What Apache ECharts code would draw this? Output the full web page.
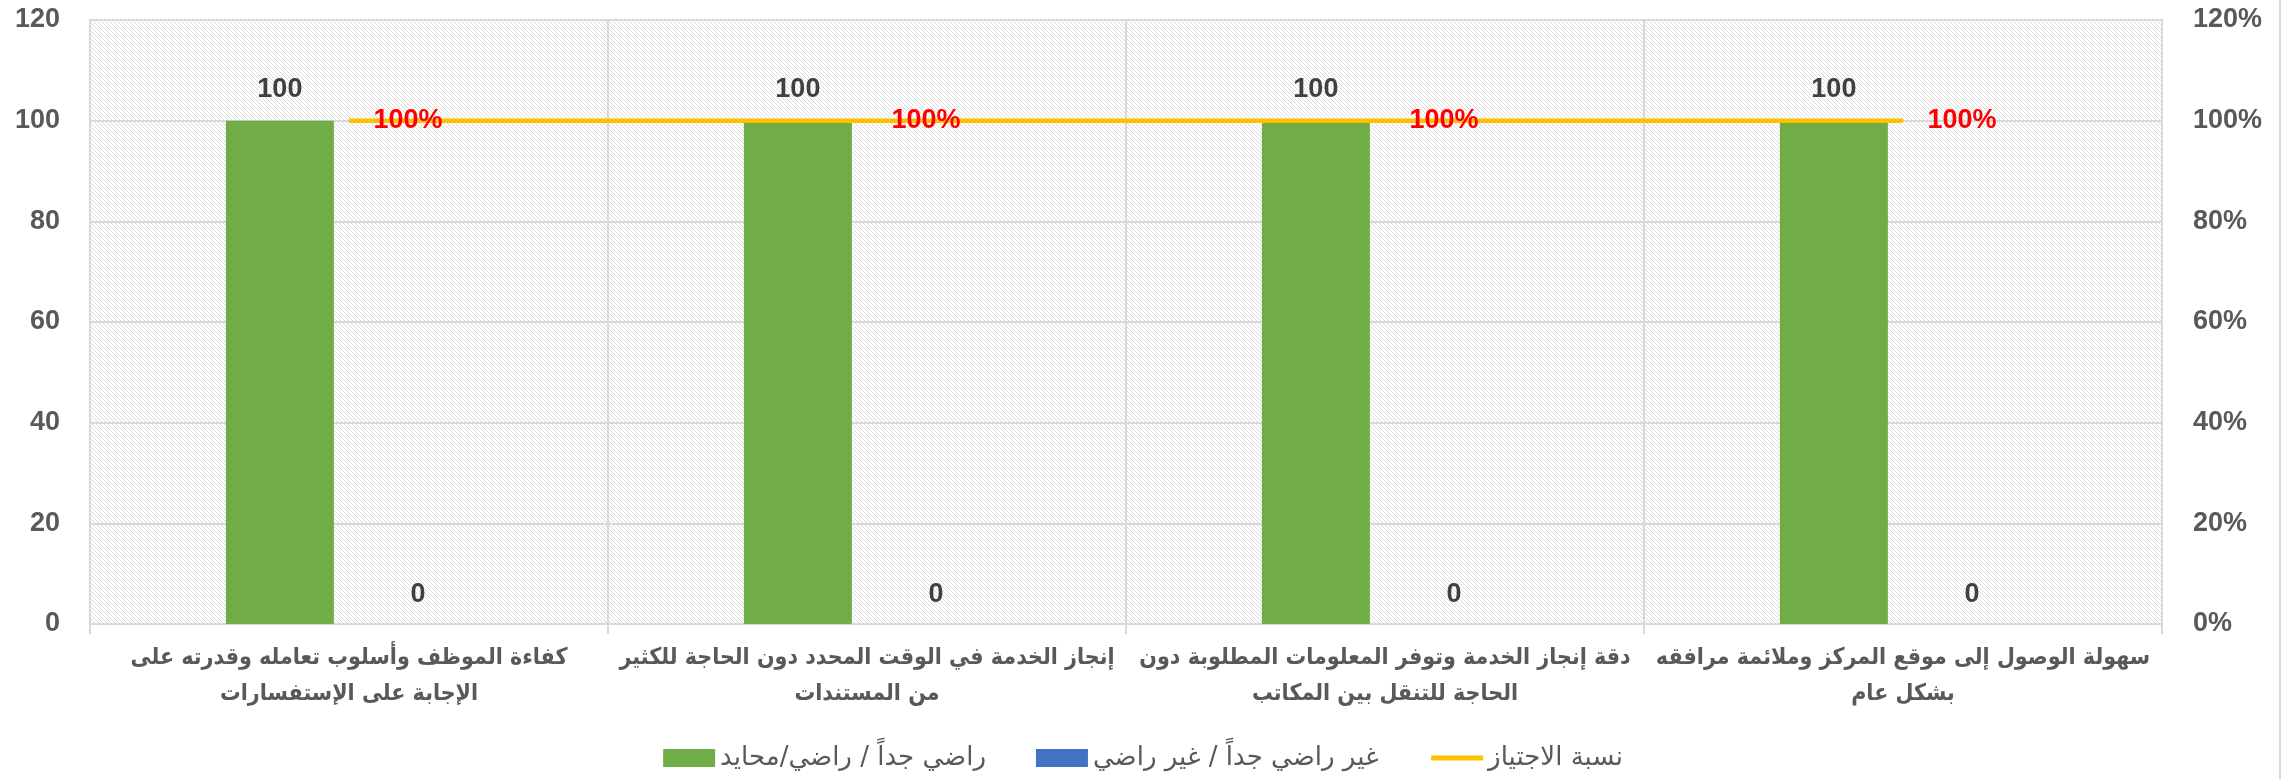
<!DOCTYPE html>
<html>
<head>
<meta charset="utf-8">
<script src="https://cdn.jsdelivr.net/npm/echarts@6/dist/echarts.min.js"></script>
<style>
html,body{margin:0;padding:0;background:#fff;}
#c{width:2286px;height:779px;}
</style>
</head>
<body>
<div id="c"></div>
<script>
const categories = [
  "كفاءة الموظف وأسلوب تعامله وقدرته على\nالإجابة على الإستفسارات",
  "إنجاز الخدمة في الوقت المحدد دون الحاجة للكثير\nمن المستندات",
  "دقة إنجاز الخدمة وتوفر المعلومات المطلوبة دون\nالحاجة للتنقل بين المكاتب",
  "سهولة الوصول إلى موقع المركز وملائمة مرافقه\nبشكل عام"
];
const seriesNames = ["راضي جداً / راضي/محايد", "غير راضي جداً / غير راضي", "نسبة الاجتياز"];
const satisfied = [100, 100, 100, 100];
const notSatisfied = [0, 0, 0, 0];
const passRate = [100, 100, 100, 100];
const leftTicks = { min: 0, max: 120, interval: 20 };
const rightTicks = { min: 0, max: 120, interval: 20 };

// hatch pattern
const tile = document.createElement('canvas');
tile.width = 4; tile.height = 4;
const tc = tile.getContext('2d');
tc.fillStyle = '#ffffff'; tc.fillRect(0,0,4,4);
tc.fillStyle = '#dcdcdc';
for (let i = 0; i < 4; i++) { tc.fillRect(i, i, 1, 1); }

const numFont = 'Liberation Sans, Arial, sans-serif';
const arFont = 'DejaVu Sans Condensed, DejaVu Sans, sans-serif';
const legFont = 'DejaVu Sans, sans-serif';

const chart = echarts.init(document.getElementById('c'), null, {renderer: 'canvas'});
chart.setOption({
  animation: false,
  backgroundColor: '#ffffff',
  grid: {
    left: 90, right: 124, top: 20, bottom: 155,
    show: true,
    backgroundColor: {image: tile, repeat: 'repeat'},
    borderColor: '#d9d9d9', borderWidth: 2
  },
  graphic: [{
    type: 'line', shape: {x1: 2280, y1: 0, x2: 2280, y2: 779},
    style: {stroke: '#d9d9d9', lineWidth: 2}
  }],
  legend: {
    bottom: 3, left: 'center',
    itemWidth: 52, itemHeight: 18, itemGap: 50,
    textStyle: {fontSize: 26, color: '#595959', fontFamily: legFont, fontWeight: 'normal'},
    data: [
      {name: seriesNames[0], icon: 'rect'},
      {name: seriesNames[1], icon: 'rect'},
      {name: seriesNames[2], itemStyle: {opacity: 0}, lineStyle: {width: 5}}
    ]
  },
  xAxis: {
    type: 'category', data: categories, boundaryGap: true,
    axisLine: {show: true, lineStyle: {color: '#d9d9d9', width: 2}},
    axisTick: {show: true, length: 10, lineStyle: {color: '#d9d9d9', width: 2}},
    splitLine: {show: true, lineStyle: {color: '#d9d9d9', width: 2}},
    axisLabel: {
      interval: 0, margin: 16, fontSize: 23, lineHeight: 36,
      fontWeight: 'bold', color: '#595959', fontFamily: arFont, align: 'center'
    }
  },
  yAxis: [{
    type: 'value', min: leftTicks.min, max: leftTicks.max, interval: leftTicks.interval,
    axisLine: {show: false}, axisTick: {show: false},
    splitLine: {show: true, lineStyle: {color: '#d9d9d9', width: 2}},
    axisLabel: {fontSize: 27, fontWeight: 'bold', color: '#595959', fontFamily: numFont, margin: 30}
  }, {
    type: 'value', min: rightTicks.min, max: rightTicks.max, interval: rightTicks.interval,
    position: 'right',
    axisLine: {show: false}, axisTick: {show: false}, splitLine: {show: false},
    axisLabel: {fontSize: 27, fontWeight: 'bold', color: '#595959', fontFamily: numFont, margin: 31, formatter: '{value}%'}
  }],
  series: [{
    name: seriesNames[0], type: 'bar', data: satisfied,
    barWidth: 108, barGap: '28%',
    itemStyle: {color: '#70AD47'},
    label: {show: true, position: 'top', distance: 18, fontSize: 27, fontWeight: 'bold', color: '#404040', fontFamily: numFont}
  }, {
    name: seriesNames[1], type: 'bar', data: notSatisfied,
    barWidth: 108,
    itemStyle: {color: '#4472C4'},
    label: {show: true, position: 'top', distance: 16, fontSize: 27, fontWeight: 'bold', color: '#404040', fontFamily: numFont}
  }, {
    name: seriesNames[2], type: 'line', data: passRate, yAxisIndex: 1,
    symbol: 'circle', symbolSize: 1, showSymbol: true,
    lineStyle: {color: '#FFC000', width: 4.5},
    itemStyle: {color: '#FFC000'},
    z: 5,
    label: {show: true, position: 'right', distance: 24, fontSize: 27, fontWeight: 'bold', color: '#FF0000', fontFamily: numFont, formatter: '{c}%'}
  }]
});
</script>
</body>
</html>
